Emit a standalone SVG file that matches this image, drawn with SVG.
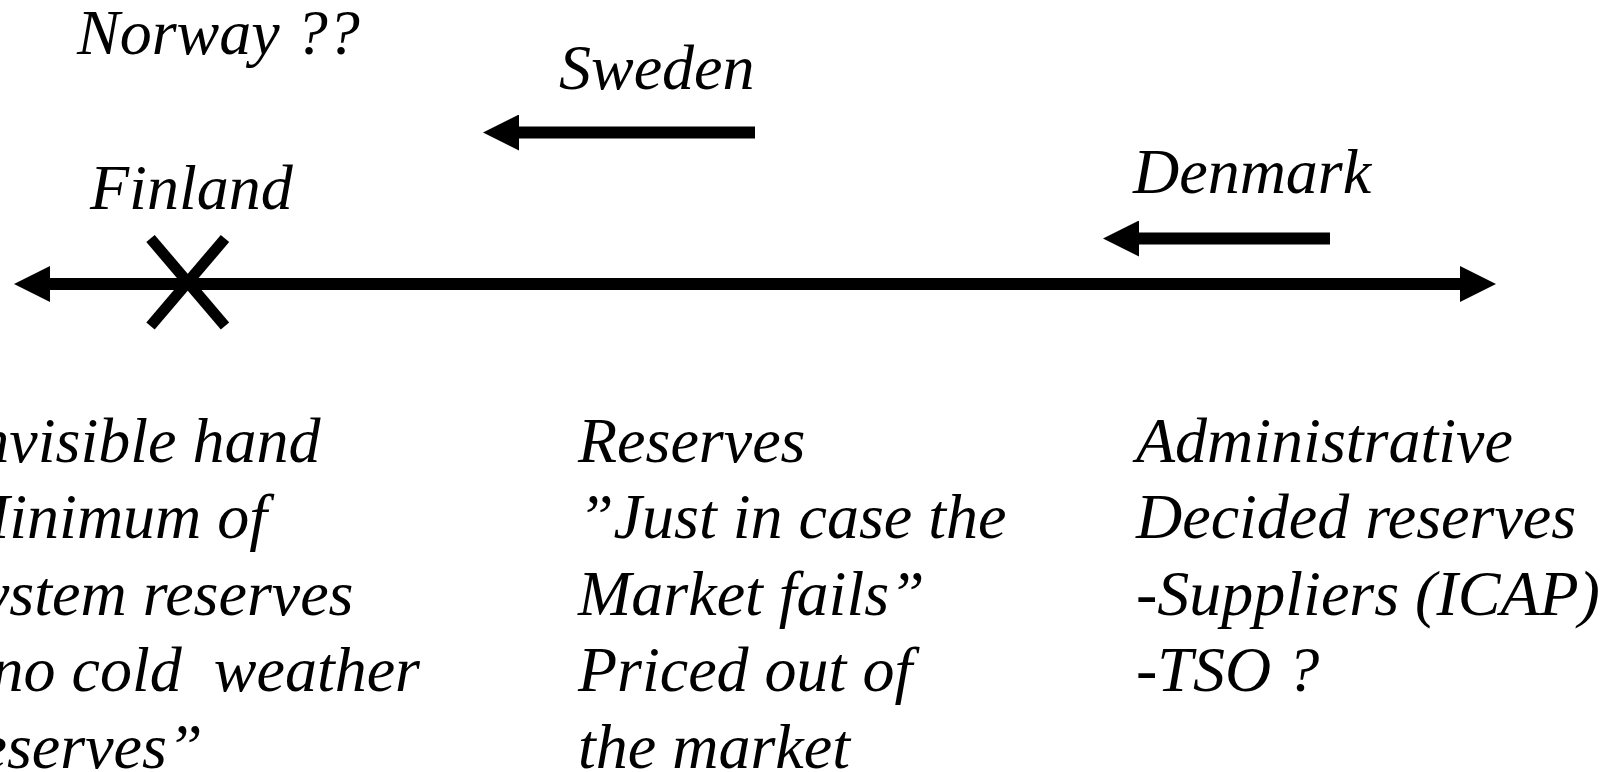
<svg xmlns="http://www.w3.org/2000/svg" width="1615" height="772" viewBox="0 0 1615 772">
<style>
  text { font-family: "Liberation Serif", "Times New Roman", serif; font-style: italic; font-size: 64px; fill: #000; white-space: pre; }
  .conn { stroke: #000; stroke-width: 12; fill: none; }
  .xmark { stroke: #000; stroke-width: 11; stroke-linecap: butt; }
</style>
<defs>
  <marker id="head" markerUnits="userSpaceOnUse" markerWidth="38" markerHeight="36" refX="2" refY="18" orient="auto-start-reverse" viewBox="0 0 38 36">
    <path d="M0,0 L36,18 L0,36 z" fill="#000"/>
  </marker>
</defs>
<rect width="1615" height="772" fill="#fff"/>
<g id="connectors">
  <line class="conn" x1="48" y1="284" x2="1462" y2="284" marker-start="url(#head)" marker-end="url(#head)"/>
  <line class="conn" x1="755" y1="132.5" x2="517" y2="132.5" marker-end="url(#head)"/>
  <line class="conn" x1="1330" y1="238.5" x2="1137" y2="238.5" marker-end="url(#head)"/>
</g>
<g id="finland-mark">
  <line class="xmark" x1="150.5" y1="238.5" x2="225" y2="326"/>
  <line class="xmark" x1="225" y1="238.5" x2="150.5" y2="326"/>
</g>
<g id="norway"><text x="77" y="54">Norway ??</text></g>
<g id="sweden"><text x="559" y="88.5">Sweden</text></g>
<g id="finland"><text x="90" y="208.5">Finland</text></g>
<g id="denmark"><text x="1133" y="192.5">Denmark</text></g>
<g id="left-column">
  <text x="-44" y="461.5">Invisible hand</text>
  <text x="-44" y="538">Minimum of</text>
  <text x="-44" y="614.5">system reserves</text>
  <text x="-44" y="691">”no cold  weather</text>
  <text x="-44" y="767.5">reserves”</text>
</g>
<g id="middle-column">
  <text x="578" y="461.5">Reserves</text>
  <text x="578" y="538">”Just in case the</text>
  <text x="578" y="614.5">Market fails”</text>
  <text x="578" y="691">Priced out of</text>
  <text x="578" y="767.5">the market</text>
</g>
<g id="right-column">
  <text x="1136" y="461.5">Administrative</text>
  <text x="1136" y="538">Decided reserves</text>
  <text x="1136" y="614.5">-Suppliers (ICAP)</text>
  <text x="1136" y="691">-TSO ?</text>
</g>
</svg>
